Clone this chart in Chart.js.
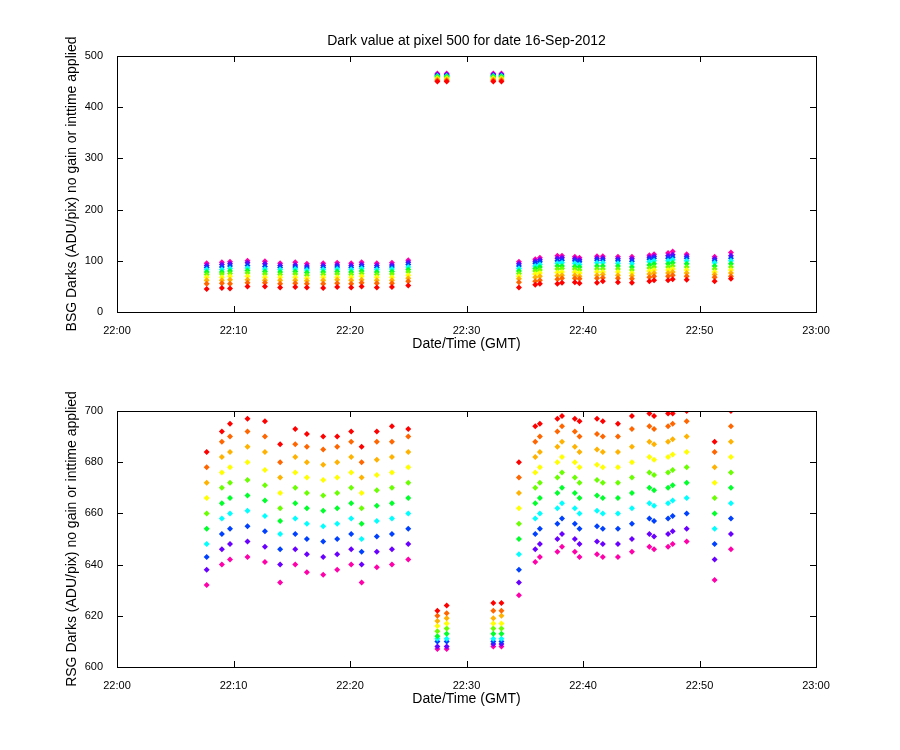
<!DOCTYPE html>
<html><head><script src="https://cdn.jsdelivr.net/npm/chart.js"></script>
<style>body{margin:0;background:#fff;width:900px;height:750px;position:relative}canvas{position:absolute;left:0}</style></head>
<body><canvas id="c1" width="900" height="375" style="top:0"></canvas><canvas id="c2" width="900" height="375" style="top:375px"></canvas>
<script>
const times=[7.7,9.0,9.7,11.2,12.7,14.0,15.3,16.3,17.7,18.9,20.1,21.0,22.3,23.6,25.0,27.5,28.3,32.3,33.0,34.5,35.9,36.3,37.8,38.2,39.3,39.7,41.2,41.7,43.0,44.2,45.7,46.1,47.3,47.7,48.9,51.3,52.7];
const xTickMinutes=[0,10,20,30,40,50,60];
const bsgValues=[
[45,47,46,50,50,48,49,48,47,49,48,50,48,49,52,450,450,450,450,48,53,55,55,57,58,56,57,60,58,57,60,62,62,64,63,60,65],
[55,56,55,57,57,55,56,55,55,56,55,57,56,56,60,452,452,452,452,58,60,62,64,66,66,65,66,67,66,65,68,70,70,72,70,68,70],
[62,62,63,63,62,62,62,61,62,63,62,63,62,62,66,454,454,454,454,65,68,70,71,72,72,70,72,73,72,71,74,76,76,78,76,73,76],
[68,68,70,70,68,68,68,66,68,68,68,70,68,68,72,456,456,456,456,70,74,76,77,78,78,76,78,78,78,76,80,82,82,84,82,78,82],
[73,74,75,76,74,73,74,72,73,74,73,75,73,74,78,458,458,458,458,75,80,82,84,85,84,82,84,84,84,82,86,88,88,90,88,84,88],
[78,78,80,81,79,78,79,77,78,79,78,80,78,79,83,460,460,460,460,80,85,88,90,90,89,88,90,90,90,88,92,94,94,96,94,90,94],
[83,83,85,86,84,83,84,82,83,84,83,85,83,84,88,461,461,461,461,85,90,93,95,96,95,93,96,96,95,94,98,100,100,102,100,96,100],
[87,88,90,91,89,87,88,86,87,88,87,89,87,88,93,462,462,462,462,90,95,98,100,101,100,98,101,101,100,99,103,105,105,107,105,100,105],
[91,93,94,96,94,91,92,90,91,92,91,93,91,92,97,464,464,464,464,94,99,102,105,106,104,102,105,105,104,104,107,109,110,112,109,104,110],
[95,97,98,100,99,95,97,94,95,96,95,97,95,96,101,466,466,466,466,98,103,106,110,110,108,106,109,109,108,108,111,113,115,118,113,108,116]];
const rsgValues=[
[684,692,695,697,696,687,693,691,690,690,692,686,692,694,693,622,624,625,625,680,694,695,697,698,697,696,697,696,695,698,699,698,699,699,700,688,700],
[678,688,690,692,690,680,687,686,685,686,688,680,688,688,690,620,621,622,622,674,688,690,692,694,692,690,691,690,690,693,694,693,694,695,696,684,694],
[672,682,684,686,684,674,682,680,679,680,682,674,681,682,684,618,619,619,620,668,682,684,686,688,686,684,685,684,684,686,688,687,688,689,690,678,688],
[666,676,678,680,677,668,676,674,673,674,676,668,675,676,678,616,617,617,617,662,676,678,680,682,680,678,679,678,678,680,682,681,682,683,684,672,682],
[660,670,672,673,671,662,670,668,667,668,670,662,669,670,672,614,615,615,615,656,670,672,674,676,674,672,673,672,672,674,676,675,676,677,678,666,676],
[654,664,666,667,665,657,664,662,661,662,664,656,663,664,666,612,613,613,613,650,664,666,668,670,668,666,667,666,666,668,670,669,670,671,672,660,670],
[648,658,660,661,659,652,658,656,655,656,658,650,657,658,660,611,611,611,611,644,658,660,662,664,662,660,661,660,660,662,664,663,664,665,666,654,664],
[643,652,654,655,653,646,652,650,649,650,652,645,651,652,654,610,610,610,610,638,652,654,656,658,656,654,655,654,654,656,658,657,658,659,660,648,658],
[638,646,648,649,647,640,646,644,643,644,646,640,645,646,648,608,608,609,609,633,646,648,650,652,650,648,649,648,648,650,652,651,652,653,654,642,652],
[632,640,642,643,641,633,640,637,636,638,640,633,639,640,642,607,607,608,608,628,641,643,645,647,645,643,644,643,643,645,647,646,647,648,649,634,646]];
const seriesHues=[0,24,42,60,95,130,180,225,265,320];

function ds(vals){return vals.map((row,i)=>({data:row.map((v,j)=>({x:times[j],y:v})),
 backgroundColor:`hsl(${seriesHues[i]},100%,50%)`,borderColor:`hsl(${seriesHues[i]},100%,50%)`,
 pointStyle:'rectRot',pointRadius:3,borderWidth:0}));}
const F='Liberation Sans';
function boxPlugin(ylab,title){return {id:'box',afterDraw(c){const a=c.chartArea,x=c.ctx;x.save();x.strokeStyle='#000';x.lineWidth=1;
 x.strokeRect(Math.round(a.left)+.5,Math.round(a.top)+.5,Math.round(a.right-a.left),Math.round(a.bottom-a.top));
 const xs=c.scales.x,ys=c.scales.y;x.beginPath();
 xs.ticks.forEach(t=>{const p=Math.round(xs.getPixelForValue(t.value))+.5;x.moveTo(p,a.bottom);x.lineTo(p,a.bottom-6);x.moveTo(p,a.top);x.lineTo(p,a.top+6);});
 ys.ticks.forEach(t=>{const p=Math.round(ys.getPixelForValue(t.value))+.5;x.moveTo(a.left,p);x.lineTo(a.left+6,p);x.moveTo(a.right,p);x.lineTo(a.right-6,p);});
 x.stroke();
 x.fillStyle='#000';x.font='14px '+F;x.textAlign='center';x.textBaseline='middle';
 x.fillText('Date/Time (GMT)',(a.left+a.right)/2,a.bottom+32);
 if(title)x.fillText(title,(a.left+a.right)/2,a.top-15);
 x.translate(72,(a.top+a.bottom)/2);x.rotate(-Math.PI/2);x.fillText(ylab,0,0);
 x.restore();}};}
function make(id,vals,ymin,ymax,step,ylab,title,padTop){
 new Chart(document.getElementById(id),{type:'scatter',data:{datasets:ds(vals)},plugins:[boxPlugin(ylab,title)],
 options:{responsive:false,animation:false,layout:{padding:{top:padTop,right:84,left:0,bottom:0}},
 plugins:{legend:{display:false},tooltip:{enabled:false}},
 scales:{x:{type:'linear',min:0,max:60,afterBuildTicks:s=>{s.ticks=xTickMinutes.map(v=>({value:v}));},
   ticks:{color:'#000',font:{family:F,size:11},padding:4,maxRotation:0,callback:v=>{const h=22+Math.floor(v/60),m=v%60;return h+':'+String(m).padStart(2,'0');}},
   grid:{display:false},border:{display:false},afterFit:s=>{s.height=375-padTop-(padTop?256:255)-(padTop?0:56)+ (padTop?0:0);}},
  y:{min:ymin,max:ymax,ticks:{stepSize:step,color:'#000',font:{family:F,size:11},padding:6},grid:{display:false},border:{display:false},afterFit:s=>{s.width=117;}}}}});
}
make('c1',bsgValues,0,500,100,'BSG Darks (ADU/pix) no gain or inttime applied','Dark value at pixel 500 for date 16-Sep-2012',56);
make('c2',rsgValues,600,700,20,'RSG Darks (ADU/pix) no gain or inttime applied','',36);
</script></body></html>
